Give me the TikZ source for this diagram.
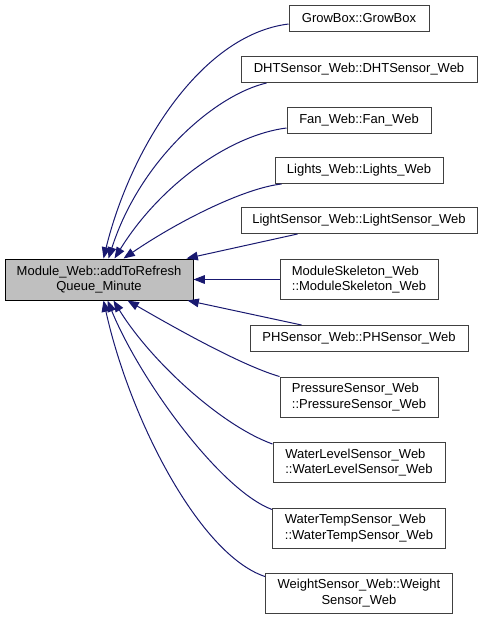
\documentclass[tikz,border=0pt]{standalone}
\usepackage{fontspec}
\setmainfont{Liberation Sans}
\usetikzlibrary{arrows.meta,calc}
\definecolor{edgeblue}{HTML}{191970}
\definecolor{boxgray}{HTML}{404040}
\definecolor{mainfill}{HTML}{BFBFBF}

\begin{document}
\begin{tikzpicture}[
  x=0.75pt, y=-0.75pt,
  font=\fontsize{9.75}{11.5}\selectfont,
  fn/.style={draw=boxgray, line width=0.75pt, fill=white, align=center,
    inner sep=0pt, minimum height=19.5pt},
  fnl/.style={fn, align=left, minimum height=30pt},
  fnmain/.style={fn, draw=black, fill=mainfill, minimum height=30.75pt},
  call/.style={-{Triangle[length=8.5pt,width=6.5pt]}, line width=0.75pt, draw=edgeblue}
]
\useasboundingbox (0,0) rectangle (483,619);
\node[fnmain, minimum width=141pt] (box-main) at (99,279.5) {Module\_Web::addToRefresh\\Queue\_Minute};
\node[fn, minimum width=105pt] (box-growbox) at (359,18.5) {GrowBox::GrowBox};
\node[fn, minimum width=177pt] (box-dht) at (359,69.5) {DHTSensor\_Web::DHTSensor\_Web};
\node[fn, minimum width=108pt] (box-fan) at (359,120) {Fan\_Web::Fan\_Web};
\node[fn, minimum width=126pt] (box-lights) at (359,170.5) {Lights\_Web::Lights\_Web};
\node[fn, minimum width=177pt] (box-lightsensor) at (359,220.5) {LightSensor\_Web::LightSensor\_Web};
\node[fnl, minimum width=118.5pt] (box-skeleton) at (359,279.5) {ModuleSkeleton\_Web\\::ModuleSkeleton\_Web};
\node[fn, minimum width=163.5pt] (box-ph) at (359,338.5) {PHSensor\_Web::PHSensor\_Web};
\node[fnl, minimum width=118.5pt] (box-pressure) at (359,397) {PressureSensor\_Web\\::PressureSensor\_Web};
\node[fnl, minimum width=129pt] (box-waterlevel) at (359,462.5) {WaterLevelSensor\_Web\\::WaterLevelSensor\_Web};
\node[fnl, minimum width=129.75pt] (box-watertemp) at (359,528) {WaterTempSensor\_Web\\::WaterTempSensor\_Web};
\node[fn, minimum height=30pt, minimum width=140.25pt] (box-weight) at (359,593) {WeightSensor\_Web::Weight\\Sensor\_Web};
% callers above the main box
\draw[call] ($(box-growbox.west)+(0,5.5)$) .. controls (200,35) and (130,150) .. ($(box-main.north west)+(99,0)$);
\draw[call] ($(box-dht.south west)+(26,0)$) .. controls (215,95) and (140,160) .. ($(box-main.north west)+(104,0)$);
\draw[call] ($(box-fan.west)+(0,8)$) .. controls (230,135) and (160,185) .. ($(box-main.north west)+(110,0)$);
\draw[call] ($(box-lights.south west)+(7,0)$) .. controls (245,188) and (180,220) .. ($(box-main.north west)+(119,0)$);
\draw[call] ($(box-lightsensor.south west)+(57,0)$) -- ($(box-main.north west)+(182,0)$);
\draw[call] (box-skeleton.west) -- (box-main.east);
% callers below the main box
\draw[call] ($(box-ph.north west)+(52,0)$) -- ($(box-main.south west)+(183,0)$);
\draw[call] (box-pressure.north west) .. controls (240,365) and (170,325) .. ($(box-main.south west)+(123,0)$);
\draw[call] ($(box-waterlevel.north west)+(0,2)$) .. controls (220,425) and (150,360) .. ($(box-main.south west)+(109,0)$);
\draw[call] ($(box-watertemp.north west)+(0,2)$) .. controls (220,490) and (140,380) .. ($(box-main.south west)+(103,0)$);
\draw[call] ($(box-weight.north west)+(0,4)$) .. controls (200,555) and (130,420) .. ($(box-main.south west)+(99,0)$);
\end{tikzpicture}
\end{document}
